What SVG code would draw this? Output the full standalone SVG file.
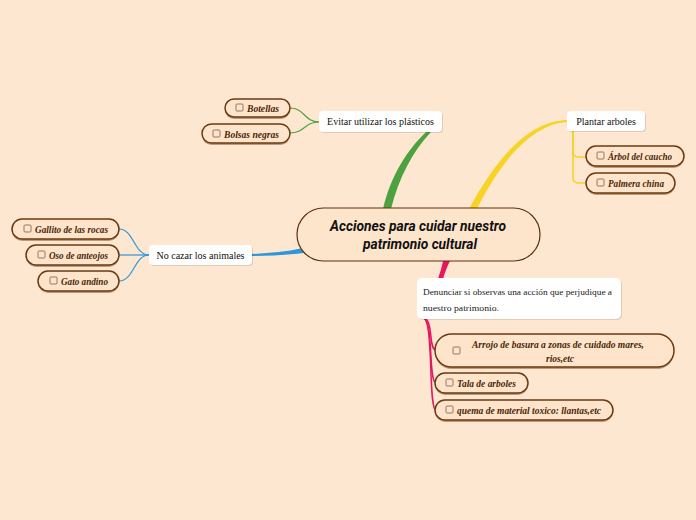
<svg xmlns="http://www.w3.org/2000/svg" width="696" height="520" viewBox="0 0 696 520">
<defs>
<style>
.bg{fill:#fee7d1}
.sub{fill:#fee4ca;stroke:#6a3a12;stroke-width:1.5}
.subsh{fill:#8a5a30;opacity:0.55}
.cb{fill:none;stroke:#8a6b55;stroke-width:0.9}
.st{font-family:"Liberation Serif",serif;font-style:italic;font-weight:bold;font-size:10px;fill:#4a2608}
.wn{fill:#ffffff}
.wsh{fill:#000;opacity:0.12}
.wt{font-family:"Liberation Serif",serif;font-size:10px;fill:#111}
.dt{font-family:"Liberation Serif",serif;font-size:8px;fill:#222}
.ct{font-family:"Roboto","Liberation Sans",sans-serif;font-style:italic;font-weight:bold;font-size:14px;fill:#111}
.g{fill:none;stroke:#4ea140;stroke-width:1.2}
.y{fill:none;stroke:#f6d325;stroke-width:1.6}
.b{fill:none;stroke:#2b97dd;stroke-width:1.2}
.p{fill:none;stroke:#e5175f;stroke-width:1.5}
</style>
</defs>
<rect class="bg" x="0" y="0" width="696" height="520"/>

<g id="connectors">
<path d="M383,209 C391,175 407,150 427,131 L431,132 C413,151 399,177 391,209 Z" fill="#4ea140"/>
<path d="M469,209 C495,160 528,121 567,120 L567,122 C532,124 500,162 477,209 Z" fill="#f6d325"/>
<path d="M252,254 C270,253 285,252 303,248 L304,253 C285,255 270,256 252,256 Z" fill="#2b97dd"/>
<path d="M443,261 C442,267 440,272 438,279 L443,279 C445,272 447,267 450,261 Z" fill="#e5175f"/>
<path class="g" d="M319,122 C304,122 305,108 290,108"/>
<path class="g" d="M319,122 C304,122 305,133 290,133"/>
<path class="y" d="M573,131 L573,152 Q573,157 579,157 L586,157"/>
<path class="y" d="M573,131 L573,178 Q573,183 579,183 L586,183"/>
<path class="b" d="M149,255 C134,255 134,229 119,229"/>
<path class="b" d="M149,255 C134,255 134,255 119,255"/>
<path class="b" d="M149,255 C134,255 134,281 119,281"/>
<path class="p" d="M423,318 C434,318 428,350 436,350"/>
<path class="p" d="M423,318 C434,318 428,383 436,383"/>
<path class="p" d="M423,318 C434,318 428,410 436,410"/>
</g>

<g id="central">
<rect x="297" y="208" width="243" height="53" rx="26.5" fill="#fde5cc" stroke="#5a300e" stroke-width="1.2"/>
<text class="ct" x="418" y="231" text-anchor="middle" textLength="176" lengthAdjust="spacingAndGlyphs">Acciones para cuidar nuestro</text>
<text class="ct" x="420" y="249" text-anchor="middle" textLength="114" lengthAdjust="spacingAndGlyphs">patrimonio cultural</text>
</g>

<g id="evitar">
<rect class="wsh" x="320" y="112" width="123" height="21" rx="4"/>
<rect class="wn" x="319" y="111" width="123" height="21" rx="4"/>
<text class="wt" x="380.5" y="125" text-anchor="middle">Evitar utilizar los plásticos</text>
</g>
<g id="botellas">
<rect class="subsh" x="225" y="101" width="65" height="18" rx="9"/>
<rect class="sub" x="225" y="99" width="65" height="18" rx="9"/>
<rect class="cb" x="236" y="104" width="7" height="7" rx="1"/>
<text class="st" x="247" y="112" textLength="32" lengthAdjust="spacingAndGlyphs">Botellas</text>
</g>
<g id="bolsas">
<rect class="subsh" x="202" y="126" width="88" height="19" rx="9.5"/>
<rect class="sub" x="202" y="124" width="88" height="19" rx="9.5"/>
<rect class="cb" x="213" y="130" width="7" height="7" rx="1"/>
<text class="st" x="224" y="138" textLength="55" lengthAdjust="spacingAndGlyphs">Bolsas negras</text>
</g>

<g id="plantar">
<rect class="wsh" x="568" y="112" width="78" height="20" rx="4"/>
<rect class="wn" x="567" y="111" width="78" height="20" rx="4"/>
<text class="wt" x="606" y="125" text-anchor="middle">Plantar arboles</text>
</g>
<g id="caucho">
<rect class="subsh" x="586" y="148" width="98" height="20" rx="10"/>
<rect class="sub" x="586" y="146" width="98" height="20" rx="10"/>
<rect class="cb" x="597" y="152" width="7" height="7" rx="1"/>
<text class="st" x="608" y="160" textLength="64" lengthAdjust="spacingAndGlyphs">Árbol del caucho</text>
</g>
<g id="palmera">
<rect class="subsh" x="586" y="175" width="89" height="20" rx="10"/>
<rect class="sub" x="586" y="173" width="89" height="20" rx="10"/>
<rect class="cb" x="597" y="179" width="7" height="7" rx="1"/>
<text class="st" x="608" y="187" textLength="56" lengthAdjust="spacingAndGlyphs">Palmera china</text>
</g>

<g id="nocazar">
<rect class="wsh" x="150" y="246" width="103" height="20" rx="4"/>
<rect class="wn" x="149" y="245" width="103" height="20" rx="4"/>
<text class="wt" x="200.5" y="258.5" text-anchor="middle">No cazar los animales</text>
</g>
<g id="gallito">
<rect class="subsh" x="12" y="221" width="107" height="20" rx="10"/>
<rect class="sub" x="12" y="219" width="107" height="20" rx="10"/>
<rect class="cb" x="24" y="225" width="7" height="7" rx="1"/>
<text class="st" x="35" y="233" textLength="73" lengthAdjust="spacingAndGlyphs">Gallito de las rocas</text>
</g>
<g id="oso">
<rect class="subsh" x="26" y="247" width="93" height="20" rx="10"/>
<rect class="sub" x="26" y="245" width="93" height="20" rx="10"/>
<rect class="cb" x="38" y="251" width="7" height="7" rx="1"/>
<text class="st" x="49" y="259" textLength="59" lengthAdjust="spacingAndGlyphs">Oso de anteojos</text>
</g>
<g id="gato">
<rect class="subsh" x="38" y="273" width="81" height="20" rx="10"/>
<rect class="sub" x="38" y="271" width="81" height="20" rx="10"/>
<rect class="cb" x="50" y="277" width="7" height="7" rx="1"/>
<text class="st" x="61" y="285" textLength="47" lengthAdjust="spacingAndGlyphs">Gato andino</text>
</g>

<g id="denunciar">
<rect class="wsh" x="418" y="279" width="204" height="41" rx="5"/>
<rect class="wn" x="417" y="278" width="204" height="41" rx="5"/>
<text class="dt" x="423" y="295" textLength="189" lengthAdjust="spacingAndGlyphs">Denunciar si observas una acción que perjudique a</text>
<text class="dt" x="423" y="311" textLength="76" lengthAdjust="spacingAndGlyphs">nuestro patrimonio.</text>
</g>
<g id="arrojo">
<rect class="subsh" x="435" y="336" width="239" height="33" rx="16.5"/>
<rect class="sub" x="435" y="334" width="239" height="33" rx="16.5"/>
<rect class="cb" x="453" y="347" width="7" height="7" rx="1"/>
<text class="st" x="558" y="348" text-anchor="middle" textLength="172" lengthAdjust="spacingAndGlyphs">Arrojo de basura a zonas de cuidado mares,</text>
<text class="st" x="560" y="362" text-anchor="middle" textLength="28" lengthAdjust="spacingAndGlyphs">rios,etc</text>
</g>
<g id="tala">
<rect class="subsh" x="435" y="375" width="93" height="20" rx="10"/>
<rect class="sub" x="435" y="373" width="93" height="20" rx="10"/>
<rect class="cb" x="446" y="379" width="7" height="7" rx="1"/>
<text class="st" x="457" y="387" textLength="59" lengthAdjust="spacingAndGlyphs">Tala de arboles</text>
</g>
<g id="quema">
<rect class="subsh" x="435" y="402" width="178" height="20" rx="10"/>
<rect class="sub" x="435" y="400" width="178" height="20" rx="10"/>
<rect class="cb" x="446" y="406" width="7" height="7" rx="1"/>
<text class="st" x="457" y="414" textLength="144" lengthAdjust="spacingAndGlyphs">quema de material toxico: llantas,etc</text>
</g>
</svg>
